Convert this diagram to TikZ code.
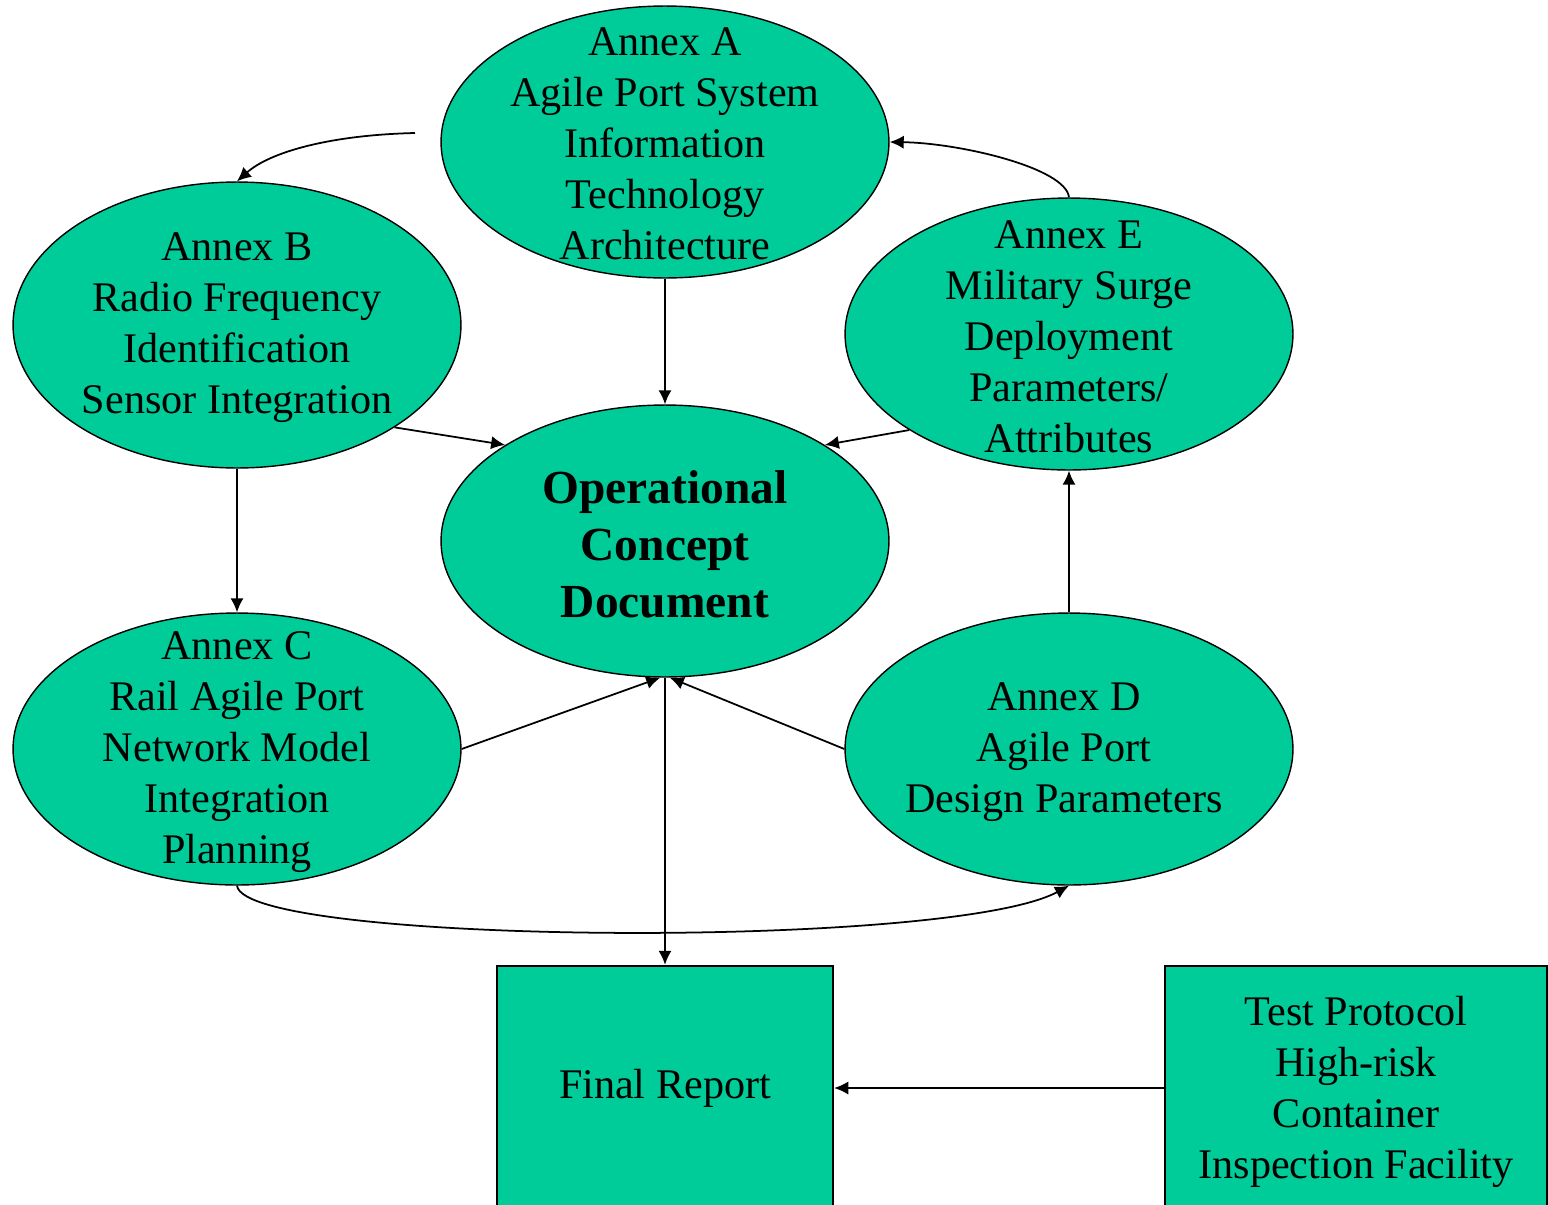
\documentclass[tikz,border=0pt]{standalone}
\usepackage{fontspec}
\setmainfont{Liberation Serif}
\usetikzlibrary{arrows.meta,shapes}
\definecolor{annexgreen}{RGB}{0,204,153}
\tikzstyle{every picture}+=[>={Latex[length=8pt,width=7.5pt]}]
\tikzstyle{every picture}+=[x=0.02cm,y=-0.02cm]
\tikzstyle{every picture}+=[line width=0.8pt]
\tikzstyle{annex}=[ellipse, draw, fill=annexgreen, inner sep=0pt]
\tikzstyle{annex}+=[minimum width=8.96cm, minimum height=5.44cm]
\tikzstyle{annextext}=[inner sep=0pt, align=center]
\tikzstyle{annextext}+=[font=\fontsize{24}{29}\selectfont]
\tikzstyle{doc}=[rectangle, draw, fill=annexgreen, inner sep=0pt]
\tikzstyle{doc}+=[minimum height=4.88cm, align=center, line width=1.4pt]
\tikzstyle{doc}+=[font=\fontsize{24}{29}\selectfont]
\tikzstyle{link}=[->, line width=1pt]

\begin{document}
\begin{tikzpicture}
\useasboundingbox (0,0) rectangle (1548,1204);

\node[annex] (ocd) at (665,541) {};
\node[annex] (a) at (665,142) {};
\node[annex, minimum height=5.72cm] (b) at (237,325) {};
\node[annex] (e) at (1069,334) {};
\node[annex] (c) at (237,749) {};
\node[annex] (d) at (1069,749) {};

\node[annextext, font=\fontsize{27}{32.5}\selectfont\bfseries] (ocd text) at (665,544) {Operational\\ Concept\\ Document};
\node[annextext] (a text) at (665,144) {Annex A\\ Agile Port System\\ Information\\ Technology\\ Architecture};
\node[annextext] (b text) at (237,328) {Annex B\\ Radio Frequency\\ Identification\\ Sensor Integration};
\node[annextext] (e text) at (1069,337) {Annex E\\ Military Surge\\ Deployment\\ Parameters/\\ Attributes};
\node[annextext] (c text) at (237,752) {Annex C\\ Rail Agile Port\\ Network Model\\ Integration\\ Planning};
\node[annextext] (d text) at (1064,752) {Annex D\\ Agile Port\\ Design Parameters};

\node[doc, minimum width=6.72cm] (report) at (665,1088) {Final Report};
\node[doc, minimum width=7.64cm] (test) at (1356,1088) {};
\node[annextext] (test text) at (1356,1092) {Test Protocol\\ High-risk\\ Container\\ Inspection Facility};

\coordinate (feed) at (415,133);

% ring round the concept document
\draw[link] (feed) .. controls (330,135) and (270,152) .. (b.north);
\draw[link] (e.north) .. controls (1066,168) and (960,143) .. (a.east);
\draw[link] (a.south) -- (ocd.north);
\draw[link] (b.-33) -- (ocd.149);
\draw[link] (e.211) -- (ocd.31);
\draw[link] (b.south) -- (c.north);
\draw[link] (d.north) -- (e.south);
\draw[link] (c.east) -- (ocd.268);
\draw[link] (d.west) -- (ocd.272);
\draw[link] (c.south) .. controls (245,945) and (950,950) .. (d.south);

% down to the report
\draw[link] (ocd.south) -- (report.north);
\draw[link] (test.west) -- (report.east);
\end{tikzpicture}
\end{document}
